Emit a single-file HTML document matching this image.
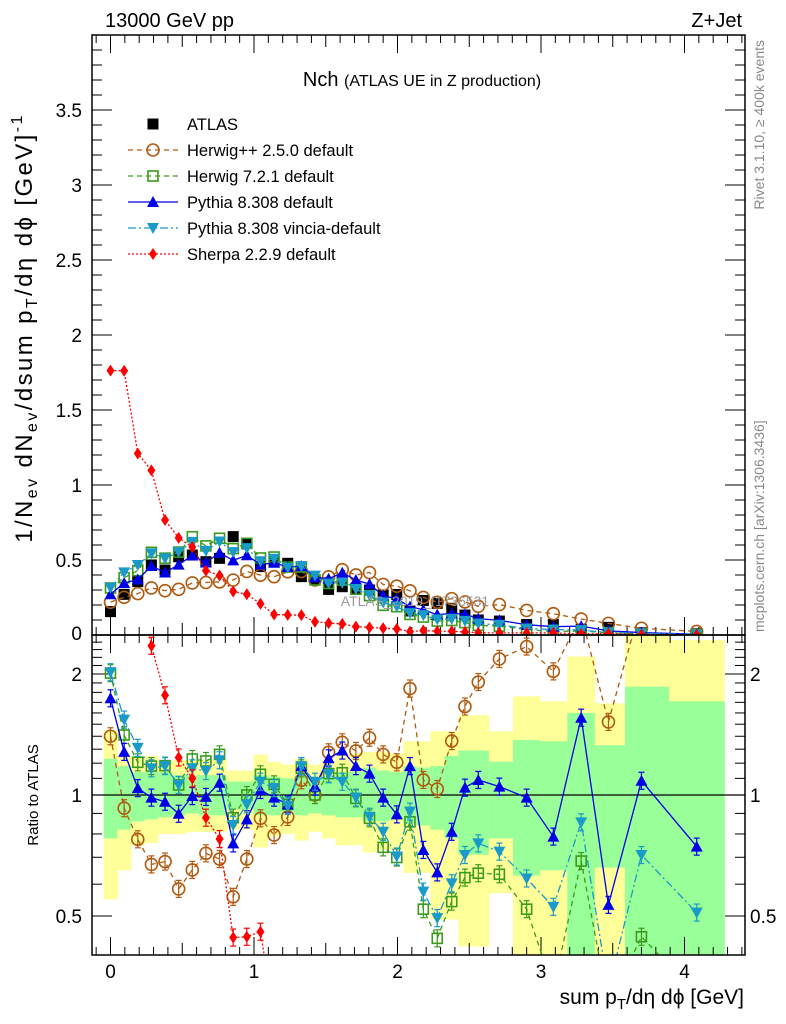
<!DOCTYPE html>
<html><head><meta charset="utf-8"><style>
html,body{margin:0;padding:0;background:#fff;width:786px;height:1024px;overflow:hidden}
svg{font-family:"Liberation Sans",sans-serif;display:block}
</style></head><body>
<svg id="chart" width="786" height="1024" viewBox="0 0 786 1024" xmlns="http://www.w3.org/2000/svg">
<defs>
<clipPath id="cm"><rect x="92" y="35" width="653" height="600"/></clipPath>
<clipPath id="cr"><rect x="92" y="635" width="653" height="320"/></clipPath>
</defs>
<g id="bands" clip-path="url(#cr)"></g>
<g id="grid"></g>
<g id="series-main" clip-path="url(#cm)"></g>
<g id="series-ratio" clip-path="url(#cr)"></g>
<rect x="92" y="35" width="653" height="600" fill="none" stroke="#000" stroke-width="1.5"/>
<rect x="92" y="635" width="653" height="320" fill="none" stroke="#000" stroke-width="1.5"/>
<text x="105" y="27" font-size="20">13000 GeV pp</text>
<text x="742" y="27" font-size="20" text-anchor="end">Z+Jet</text>
<text x="422" y="86" font-size="20" text-anchor="middle">Nch <tspan font-size="16">(ATLAS UE in Z production)</tspan></text>
<text x="415" y="606" font-size="14" fill="#999" text-anchor="middle">ATLAS_2019_I1736531</text>
<text transform="translate(764,40) rotate(-90)" font-size="14" fill="#888" text-anchor="end">Rivet 3.1.10, ≥ 400k events</text>
<text transform="translate(764,632) rotate(-90)" font-size="14" fill="#888">mcplots.cern.ch [arXiv:1306.3436]</text>
<text transform="translate(32,328) rotate(-90)" font-size="24" text-anchor="middle" letter-spacing="2.4">1/N<tspan font-size="16" dy="5">ev</tspan><tspan dy="-5"> dN</tspan><tspan font-size="16" dy="5">ev</tspan><tspan dy="-5">/dsum p</tspan><tspan font-size="16" dy="5">T</tspan><tspan dy="-5">/dη dϕ  [GeV]</tspan><tspan font-size="16" dy="-10">-1</tspan></text>
<text transform="translate(38,795) rotate(-90)" font-size="15" text-anchor="middle">Ratio to ATLAS</text>
<text x="744" y="1004" font-size="21" text-anchor="end">sum p<tspan font-size="15" dy="5">T</tspan><tspan dy="-5">/dη dϕ [GeV]</tspan></text>
<g id="legend"></g>
</svg>
<script>
const xs=[0,0.095,0.19,0.285,0.38,0.475,0.57,0.665,0.76,0.855,0.95,1.045,1.14,1.235,1.33,1.425,1.52,1.615,1.71,1.805,1.9,1.995,2.087,2.18,2.277,2.378,2.47,2.563,2.71,2.9,3.086,3.28,3.47,3.7,4.085];
const atlas=[0.156,0.271,0.356,0.467,0.433,0.522,0.533,0.489,0.511,0.656,0.611,0.456,0.489,0.478,0.389,0.367,0.304,0.322,0.311,0.3,0.267,0.27,0.16,0.23,0.211,0.178,0.133,0.1,0.093,0.07,0.07,0.038,0.051,0.015,0.008];
const rHpp=[1.40,0.927,0.776,0.672,0.683,0.584,0.651,0.716,0.693,0.558,0.693,0.875,0.795,0.882,1.088,1.0,1.277,1.352,1.287,1.388,1.262,1.206,1.84,1.09,1.035,1.362,1.66,1.91,2.18,2.34,2.03,2.8,1.52,3.0,3.0];
const rH7=[2.01,1.41,1.206,1.18,1.183,1.059,1.229,1.215,1.262,0.878,1.0,1.126,1.063,0.948,1.165,1.0,1.13,1.136,0.981,0.875,0.741,0.699,0.858,0.52,0.44,0.543,0.623,0.639,0.635,0.52,0.33,0.685,0.3,0.444,0.32];
const rPy=[1.74,1.28,1.04,0.985,0.962,0.898,0.994,0.989,1.073,0.758,0.87,1.029,0.985,0.948,1.18,1.049,1.234,1.29,1.18,1.13,0.985,0.895,1.18,0.73,0.642,0.81,1.043,1.09,1.049,0.985,0.788,1.557,0.533,1.085,0.744];
const rVi=[2.02,1.54,1.31,1.165,1.18,1.059,1.165,1.147,1.22,0.842,0.948,1.079,1.04,0.939,1.18,1.079,1.126,1.079,0.985,0.883,0.81,0.703,0.909,0.575,0.494,0.603,0.709,0.758,0.723,0.62,0.527,0.855,0.33,0.709,0.51];
const rSh=[11.3,6.5,3.4,2.35,1.77,1.24,1.10,0.878,0.777,0.442,0.444,0.457,0.28,0.28,0.34,0.24,0.26,0.23,0.18,0.17,0.17,0.15,0.14,0.13,0.12,0.14,0.15,0.15,0.15,0.2,0.2,0.2,0.2,0.2,0.2];
const yelHi=[1.45,1.25,1.25,1.25,1.22,1.22,1.22,1.22,1.22,1.15,1.15,1.26,1.21,1.19,1.23,1.19,1.22,1.26,1.27,1.28,1.28,1.27,1.36,1.36,1.44,1.44,1.58,1.58,1.44,1.76,1.71,2.21,1.69,2.6,2.43];
const grnHi=[1.23,1.18,1.14,1.14,1.14,1.12,1.12,1.12,1.12,1.08,1.08,1.12,1.11,1.10,1.12,1.10,1.11,1.14,1.14,1.17,1.15,1.14,1.18,1.17,1.18,1.25,1.29,1.29,1.21,1.37,1.36,1.60,1.33,1.86,1.71];
const grnLo=[0.78,0.82,0.86,0.87,0.88,0.89,0.90,0.89,0.89,0.92,0.92,0.89,0.89,0.90,0.89,0.90,0.89,0.88,0.88,0.86,0.86,0.87,0.85,0.84,0.82,0.78,0.71,0.71,0.78,0.63,0.65,0.3,0.66,0.3,0.3];
const yelLo=[0.55,0.65,0.75,0.76,0.80,0.80,0.81,0.81,0.81,0.82,0.82,0.74,0.79,0.80,0.77,0.81,0.78,0.75,0.75,0.72,0.73,0.73,0.64,0.64,0.49,0.49,0.42,0.42,0.57,0.3,0.3,0.3,0.3,0.3,0.3];
const mainTicks=["0.5","1","1.5","2","2.5","3","3.5"];
const xTicks=["0","1","2","3","4"];

const NS="http://www.w3.org/2000/svg";
const X=v=>110.5+143.5*v;
const YM=v=>635-150*v;
const YR=r=>795-174.6*Math.log(r);
function mk(tag,attrs,parent){const e=document.createElementNS(NS,tag);for(const k in attrs)e.setAttribute(k,attrs[k]);parent.appendChild(e);return e;}
const svg=document.getElementById('chart');
const bands=document.getElementById('bands'),grid=document.getElementById('grid');
const gm=document.getElementById('series-main'),gr=document.getElementById('series-ratio');

const edges=[];
for(let i=0;i<=xs.length;i++){
  if(i===0)edges.push(xs[0]-(xs[1]-xs[0])/2);
  else if(i===xs.length)edges.push(xs[i-1]+(xs[i-1]-xs[i-2])/2);
  else edges.push((xs[i-1]+xs[i])/2);
}
for(let i=0;i<xs.length;i++){
  const x0=X(edges[i]),w=X(edges[i+1])-x0;
  const y=mk('rect',{x:x0,y:YR(yelHi[i]),width:w+0.5,height:YR(yelLo[i])-YR(yelHi[i]),fill:'#ffff99'},bands);
  
  
  const g=mk('rect',{x:x0,y:YR(grnHi[i]),width:w+0.5,height:YR(grnLo[i])-YR(grnHi[i]),fill:'#99ff99'},bands);
  
  
}
const one=mk('line',{x1:92,x2:745,y1:YR(1),y2:YR(1),stroke:'#000','stroke-width':1.2},grid);



function tk(x1,y1,x2,y2){mk('line',{x1,y1,x2,y2,stroke:'#000','stroke-width':1},grid);}
for(let i=-1;i<=44;i++){const v=i/10;const x=X(v);if(x<93||x>744)continue;const big=i%10===0,mid=i%5===0;const L=big?18:(mid?12:8);
  tk(x,635,x,635-L);tk(x,35,x,35+L);tk(x,955,x,955-L);tk(x,635,x,635+L);}
for(let i=1;i<=39;i++){const v=i/10;const y=YM(v);if(y<36)continue;const L=i%5===0?20:10;tk(92,y,92+L,y);tk(745,y,745-L,y);}
for(let i=4;i<=25;i++){const r=i/10;const y=YR(r);if(y<636||y>954)continue;const L=(i===5||i===10||i===20)?20:10;tk(92,y,92+L,y);tk(745,y,745-L,y);}
mainTicks.forEach(t=>{const e=mk('text',{x:82,y:YM(+t)+7,'font-size':19,'text-anchor':'end'},svg);e.textContent=t;
  
  });
const z=mk('text',{x:82,y:640,'font-size':19,'text-anchor':'end'},svg);z.textContent='0';
["0.5","1","2"].forEach(t=>{[[82,'end'],[750,'start']].forEach(([x,a])=>{const e=mk('text',{x:x,y:YR(+t)+7,'font-size':19,'text-anchor':a},svg);e.textContent=t;
  
  });});
xTicks.forEach(t=>{const e=mk('text',{x:X(+t),y:978,'font-size':19,'text-anchor':'middle'},svg);e.textContent=t;
  
  });

function marker(type,col,x,y,g){
  if(type==='sq')return mk('rect',{x:x-5.5,y:y-5.5,width:11,height:11,fill:'#000'},g);
  if(type==='osq')return mk('rect',{x:x-5,y:y-5,width:10,height:10,fill:'none',stroke:col,'stroke-width':1.6},g);
  if(type==='oc')return mk('circle',{cx:x,cy:y,r:6,fill:'none',stroke:col,'stroke-width':1.6},g);
  if(type==='tu')return mk('polygon',{points:`${x-6},${y+5} ${x+6},${y+5} ${x},${y-6}`,fill:col},g);
  if(type==='td')return mk('polygon',{points:`${x-6},${y-5} ${x+6},${y-5} ${x},${y+6}`,fill:col},g);
  if(type==='di')return mk('polygon',{points:`${x},${y-6} ${x+4},${y} ${x},${y+6} ${x-4},${y}`,fill:col},g);
}
const series=[
  {name:'herwigpp',r:rHpp,col:'#b05a10',m:'oc',dash:'5,4'},
  {name:'herwig7',r:rH7,col:'#3a9a1a',m:'osq',dash:'5,4'},
  {name:'pythia',r:rPy,col:'#0000e6',m:'tu',dash:''},
  {name:'vincia',r:rVi,col:'#1a9ac8',m:'td',dash:'8,3,2,3'},
  {name:'sherpa',r:rSh,col:'#ff0000',m:'di',dash:'2,2'}
];
xs.forEach((x,i)=>{const e=marker('sq','#000',X(x),YM(atlas[i]),gm);
  
  });
series.forEach(s=>{
  const pm=xs.map((x,i)=>X(x).toFixed(1)+','+YM(atlas[i]*s.r[i]).toFixed(1)).join(' ');
  const l1=mk('polyline',{points:pm,fill:'none',stroke:s.col,'stroke-width':1.3,'stroke-dasharray':s.dash},gm);
  
  
  const pr=xs.map((x,i)=>X(x).toFixed(1)+','+YR(s.r[i]).toFixed(1)).join(' ');
  const l2=mk('polyline',{points:pr,fill:'none',stroke:s.col,'stroke-width':1.3,'stroke-dasharray':s.dash},gr);
  
  
  xs.forEach((x,i)=>{
    const a=marker(s.m,s.col,X(x),YM(atlas[i]*s.r[i]),gm);
    
    
    const cx=X(x),cy=YR(s.r[i]);
    mk('line',{x1:cx,x2:cx,y1:YR(s.r[i]*1.05),y2:YR(s.r[i]/1.05),stroke:s.col,'stroke-width':1.2},gr);
    mk('line',{x1:cx-3,x2:cx+3,y1:YR(s.r[i]*1.05),y2:YR(s.r[i]*1.05),stroke:s.col,'stroke-width':1.2},gr);
    mk('line',{x1:cx-3,x2:cx+3,y1:YR(s.r[i]/1.05),y2:YR(s.r[i]/1.05),stroke:s.col,'stroke-width':1.2},gr);
    const b=marker(s.m,s.col,cx,cy,gr);
    
    
  });
});
const lg=document.getElementById('legend');
const labels=['ATLAS','Herwig++ 2.5.0 default','Herwig 7.2.1 default','Pythia 8.308 default','Pythia 8.308 vincia-default','Sherpa 2.2.9 default'];
labels.forEach((t,i)=>{
  const y=124+26*i;
  if(i===0){marker('sq','#000',153,y,lg);}
  else{const s=series[i-1];mk('line',{x1:128,x2:178,y1:y,y2:y,stroke:s.col,'stroke-width':1.3,'stroke-dasharray':s.dash},lg);marker(s.m,s.col,153,y,lg);}
  const e=mk('text',{x:187,y:y+6,'font-size':16.5},lg);e.textContent=t;
  
  
});
</script>
</body></html>
